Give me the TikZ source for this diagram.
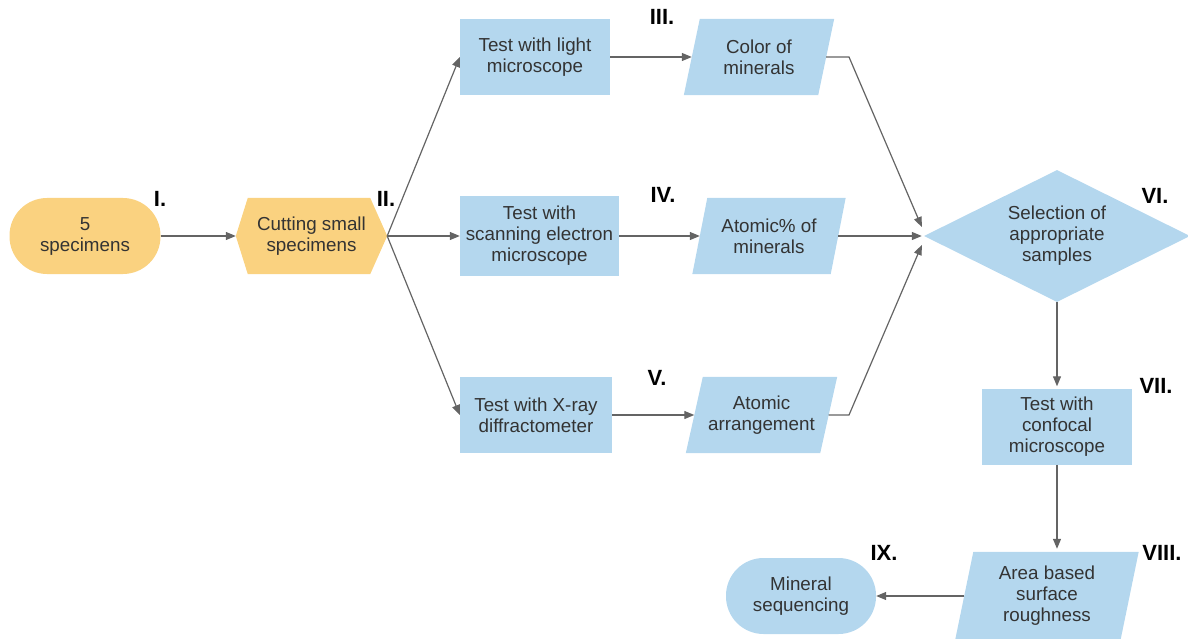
\documentclass[tikz,border=0pt]{standalone}
\usepackage{fontspec}
\setmainfont{Liberation Sans}
\usetikzlibrary{shapes.geometric,arrows.meta,backgrounds,calc}
\definecolor{boxblue}{RGB}{180,215,238}
\definecolor{boxyellow}{RGB}{250,210,128}
\definecolor{txt}{RGB}{51,51,51}
\definecolor{linegray}{RGB}{100,100,100}
\begin{document}
\begin{tikzpicture}[x=1pt,y=-1pt,
  base/.style={inner sep=0pt, align=center, text=txt, font=\fontsize{18.8}{21}\selectfont},
  bluebox/.style={base, fill=boxblue, rectangle},
  term/.style={base, rounded corners=37.5pt},
  para/.style={base, rectangle},
  lab/.style={inner sep=0pt, text=black, font=\bfseries\fontsize{22}{26}\selectfont},
  conn/.style={draw=linegray, line width=1.2pt, -{Triangle[length=10pt,width=8pt]}}]
\useasboundingbox (0,0) rectangle (1188,639);

% nodes
\node[term, fill=boxyellow, minimum width=151, minimum height=76] (n1) at (85,236) {5\\specimens};
\node[para, minimum width=151, minimum height=76] (n2) at (311.5,236) {Cutting small\\specimens};
\node[bluebox, minimum width=150, minimum height=76] (bl) at (535,57) {Test with light\\microscope};
\node[bluebox, minimum width=159, minimum height=80] (bs) at (539.5,236) {Test with\\scanning electron\\microscope};
\node[bluebox, minimum width=152, minimum height=76] (bx) at (536,415) {Test with X-ray\\diffractometer};
\node[para, minimum width=134, minimum height=76] (p1) at (759,57) {Color of\\minerals};
\node[para, minimum width=138, minimum height=76] (p2) at (769,236) {Atomic\% of\\minerals};
\node[para, minimum width=134, minimum height=76] (p3) at (761.5,415) {Atomic\\arrangement};
\node[base, diamond, aspect=2, fill=boxblue, minimum width=266, minimum height=132] (d) at (1057,236) {Selection of\\appropriate\\samples};
\node[bluebox, minimum width=150, minimum height=76] (bc) at (1057,426.5) {Test with\\confocal\\microscope};
\node[para, minimum width=165, minimum height=87] (p4) at (1047,595.5) {Area based\\surface\\roughness};
\node[term, fill=boxblue, minimum width=150, minimum height=76] (m) at (801,596) {Mineral\\sequencing};

% shapes drawn behind
\begin{scope}[on background layer]
\fill[boxyellow] (n2.west) -- ($(n2.north west)+(12,0)$) -- ($(n2.north east)+(-17,0)$) -- (n2.east) -- ($(n2.south east)+(-17,0)$) -- ($(n2.south west)+(12,0)$) -- cycle;
\fill[boxblue] ($(p1.south west)+(-8,0)$) -- ($(p1.north west)+(8,0)$) -- ($(p1.north east)+(8,0)$) -- ($(p1.south east)+(-8,0)$) -- cycle;
\fill[boxblue] ($(p2.south west)+(-7.5,0)$) -- ($(p2.north west)+(7.5,0)$) -- ($(p2.north east)+(7.5,0)$) -- ($(p2.south east)+(-7.5,0)$) -- cycle;
\fill[boxblue] ($(p3.south west)+(-8.5,0)$) -- ($(p3.north west)+(8.5,0)$) -- ($(p3.north east)+(8.5,0)$) -- ($(p3.south east)+(-8.5,0)$) -- cycle;
\fill[boxblue] ($(p4.south west)+(-9,0)$) -- ($(p4.north west)+(9,0)$) -- ($(p4.north east)+(9,0)$) -- ($(p4.south east)+(-9,0)$) -- cycle;
\end{scope}

% labels
\node[lab] (l1) at (160,199) {I.};
\node[lab] (l2) at (386,199) {II.};
\node[lab] (l3) at (662,17) {III.};
\node[lab] (l4) at (663,195) {IV.};
\node[lab] (l5) at (657,378) {V.};
\node[lab] (l6) at (1155,196) {VI.};
\node[lab] (l7) at (1156,386) {VII.};
\node[lab] (l8) at (1162,553) {VIII.};
\node[lab] (l9) at (884,553) {IX.};

% connectors
\coordinate (kx) at (849,0);
\draw[conn] (n1.east) -- (n2.west);
\draw[conn] (n2.east) -- (bl.west);
\draw[conn] (n2.east) -- (bs.west);
\draw[conn] (n2.east) -- (bx.west);
\draw[conn] (bl.east) -- (p1.west);
\draw[conn] (bs.east) -- (p2.west);
\draw[conn] (bx.east) -- (p3.west);
\draw[conn] (p1.east) -- (p1.east -| kx) -- ($(d.west)+(-2,-9)$);
\draw[conn] (p2.east) -- ($(d.west)+(-2,0)$);
\draw[conn] (p3.east) -- (p3.east -| kx) -- ($(d.west)+(-2,9)$);
\draw[conn] (d.south) -- ($(bc.north)+(0,-2)$);
\draw[conn] (bc.south) -- ($(bc.south |- p4.north)+(0,-3)$);
\draw[conn] (p4.west |- m.east) -- (m.east);
\end{tikzpicture}
\end{document}
